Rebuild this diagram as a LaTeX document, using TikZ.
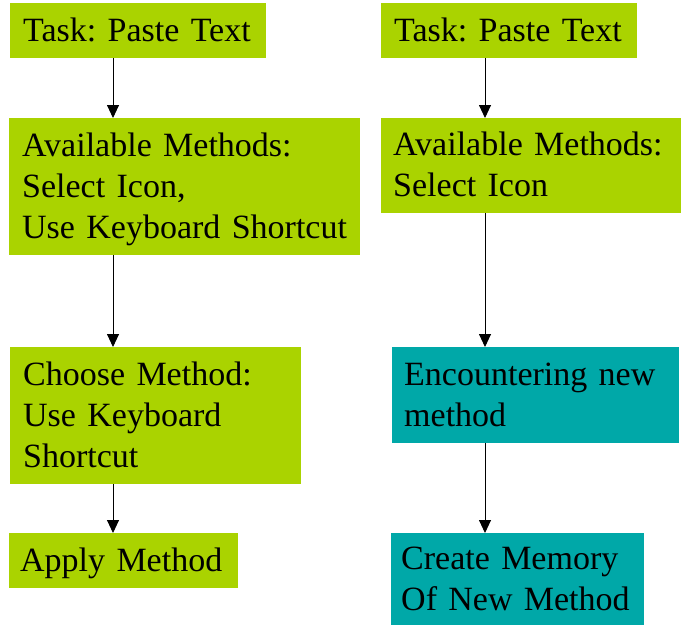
\documentclass[tikz,border=0pt]{standalone}
\usepackage{fontspec}
\setmainfont{Liberation Serif}
\usetikzlibrary{arrows.meta}
\frenchspacing

\definecolor{boxgreen}{RGB}{170,211,0}
\definecolor{boxteal}{RGB}{0,168,168}
\newcommand{\boxstrut}{\rule[-10pt]{0pt}{41pt}}

\tikzset{
  stepbox/.style={anchor=north west, rectangle, inner xsep=13pt, inner ysep=0pt,
    font=\fontsize{34}{41}\selectfont,
    execute at begin node={\raggedright\parindent=0pt\boxstrut}, execute at end node=\boxstrut},
  greenbox/.style={stepbox, fill=boxgreen},
  tealbox/.style={stepbox, fill=boxteal},
  arr/.style={-{Triangle[width=12pt,length=13pt]}, line width=0.9pt}
}

\begin{document}
\begin{tikzpicture}[x=1pt,y=-1pt]
        \useasboundingbox (0,0) rectangle (684,626);

        % left column
        \node[greenbox, text width=230pt, minimum height=55pt] (taskL) at (10,3) {Task: Paste Text};
        \node[greenbox, text width=325pt, minimum height=137pt] (availL) at (9,118)
             {Available Methods:\\Select Icon,\\Use Keyboard Shortcut};
        \node[greenbox, text width=265pt, minimum height=137pt] (choose) at (10,347)
             {Choose Method:\\Use Keyboard\\Shortcut};
        \node[greenbox, text width=207pt, inner xsep=11pt, minimum height=55pt] (apply) at (9,533) {Apply Method};

        % right column
        \node[greenbox, text width=230pt, minimum height=55pt] (taskR) at (381,3) {Task: Paste Text};
        \node[greenbox, text width=276pt, inner xsep=12pt, minimum height=95pt] (availR) at (381,118)
             {Available Methods:\\Select Icon};
        \node[tealbox, text width=263pt, inner xsep=12pt, minimum height=96pt] (encounter) at (392,347)
             {Encountering new\\method};
        \node[tealbox, text width=233pt, inner xsep=10pt, minimum height=92pt] (memory) at (391,533)
             {Create Memory\\Of New Method};

        % arrows
        \coordinate (colL) at (113,0);
        \coordinate (colR) at (485,0);
        \draw[arr] (taskL.south -| colL) -- (availL.north -| colL);
        \draw[arr] (availL.south -| colL) -- (choose.north -| colL);
        \draw[arr] (choose.south -| colL) -- (apply.north -| colL);
        \draw[arr] (taskR.south -| colR) -- (availR.north -| colR);
        \draw[arr] (availR.south -| colR) -- (encounter.north -| colR);
        \draw[arr] (encounter.south -| colR) -- (memory.north -| colR);
\end{tikzpicture}
\end{document}
